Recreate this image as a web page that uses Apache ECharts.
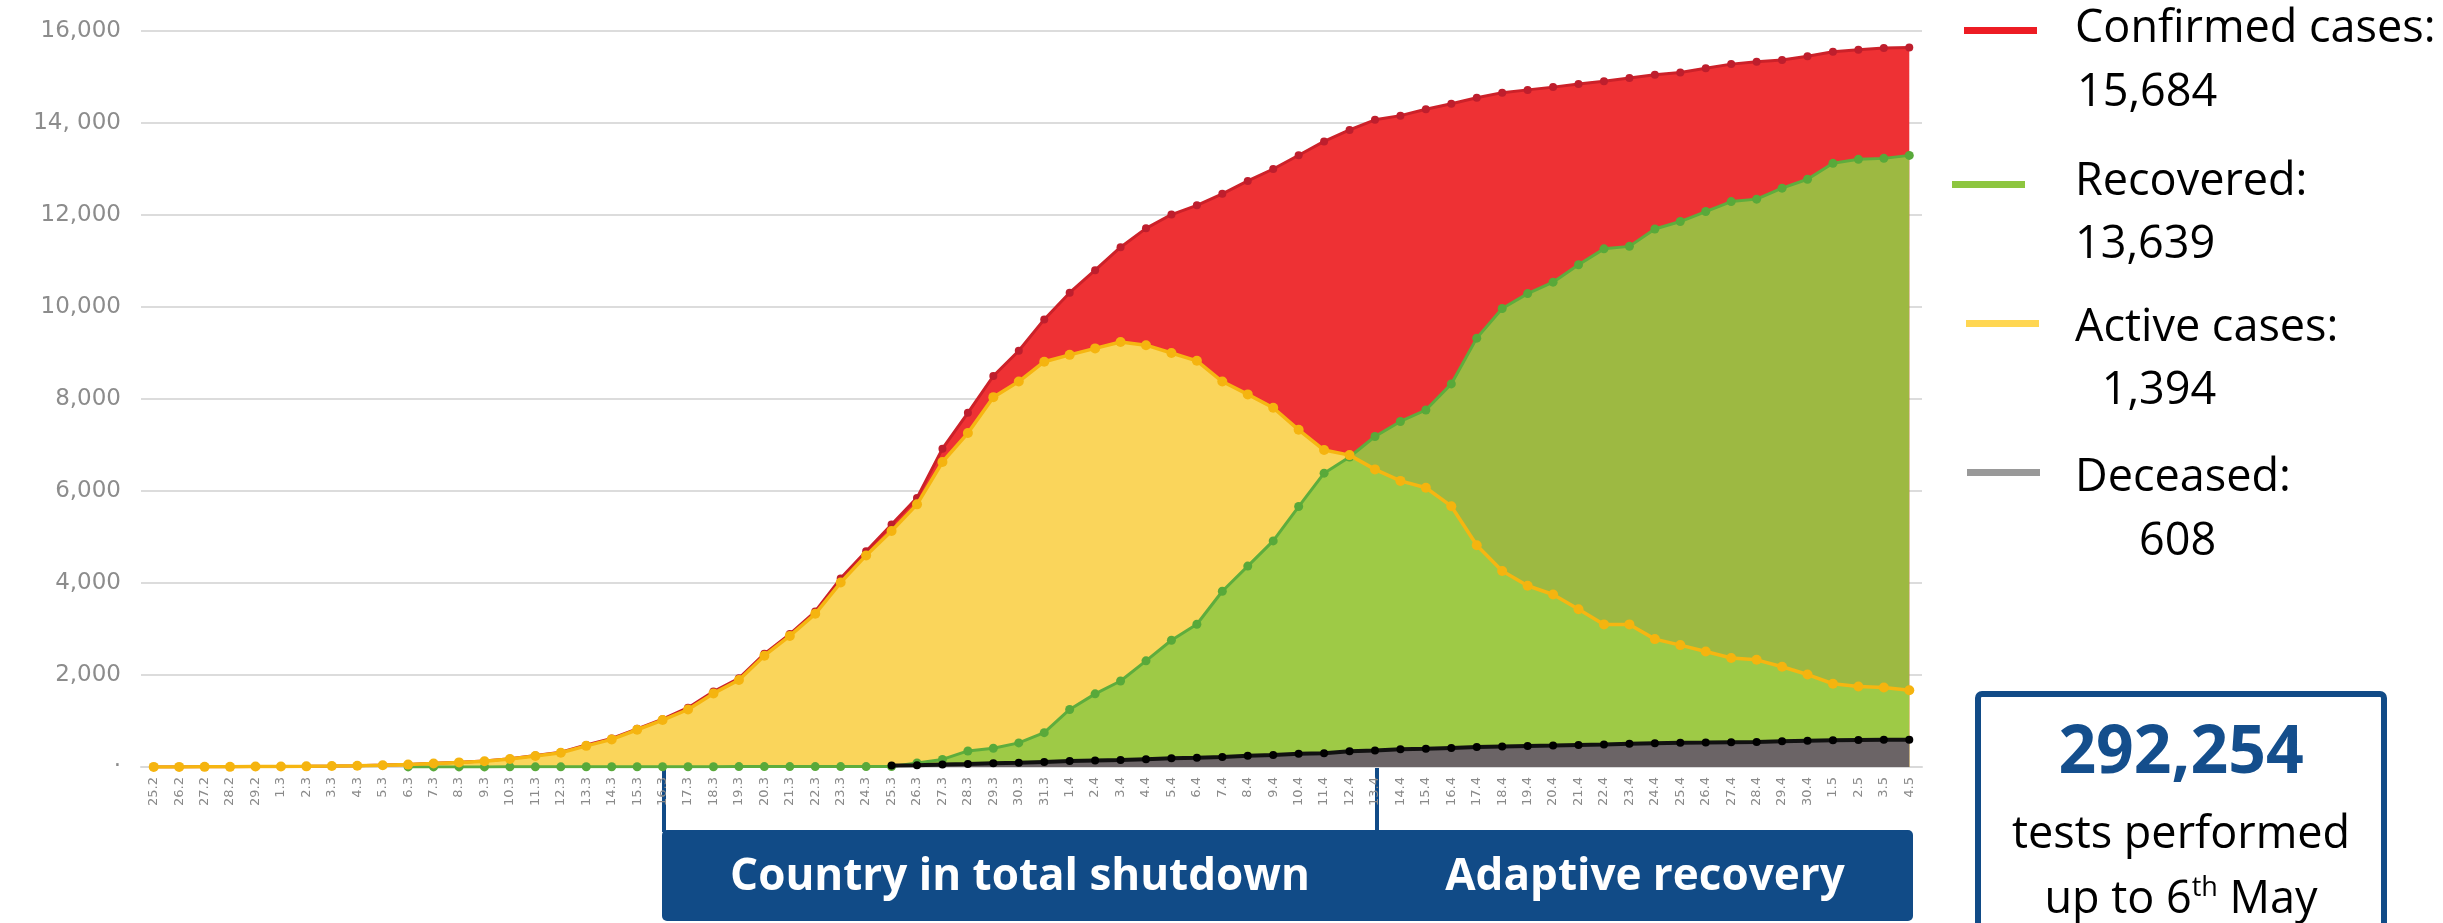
<!DOCTYPE html>
<html>
<head>
    <meta charset="utf-8">
    <title>COVID-19 Austria</title>
    <script src="https://cdn.jsdelivr.net/npm/echarts@6/dist/echarts.min.js"></script>
    <style>
        html, body { margin: 0; padding: 0; background: #fff; }
        #main { width: 2443px; height: 923px; }
    </style>
</head>
<body>
<div id="main"></div>
<script type="text/javascript">
// x axis labels (day.month)
var dates = ['25.2','26.2','27.2','28.2','29.2',
    '1.3','2.3','3.3','4.3','5.3','6.3','7.3','8.3','9.3','10.3','11.3','12.3','13.3','14.3','15.3','16.3',
    '17.3','18.3','19.3','20.3','21.3','22.3','23.3','24.3','25.3','26.3','27.3','28.3','29.3','30.3','31.3',
    '1.4','2.4','3.4','4.4','5.4','6.4','7.4','8.4','9.4','10.4','11.4','12.4','13.4','14.4','15.4',
    '16.4','17.4','18.4','19.4','20.4','21.4','22.4','23.4','24.4','25.4','26.4','27.4','28.4','29.4','30.4',
    '1.5','2.5','3.5','4.5'];

var confirmed = [2,2,3,3,9,
    10,14,21,29,41,55,79,104,131,182,250,320,480,620,830,1040,
    1290,1640,1930,2460,2890,3380,4100,4690,5270,5850,6920,7700,8500,9050,9730,
    10310,10800,11300,11710,12010,12210,12460,12740,13000,13300,13600,13850,14070,14160,14300,
    14420,14550,14660,14720,14780,14850,14910,14980,15050,15100,15190,15280,15330,15370,15450,
    15550,15590,15630,15640];

var active = [2,2,3,3,9,
    10,14,20,27,39,52,75,100,125,175,240,310,460,600,810,1020,
    1250,1600,1890,2420,2850,3330,4010,4600,5130,5710,6630,7260,8040,8380,8810,
    8960,9100,9240,9170,9000,8830,8380,8100,7810,7330,6890,6780,6470,6220,6070,
    5670,4820,4260,3940,3750,3430,3100,3100,2780,2650,2510,2370,2330,2180,2010,
    1810,1750,1730,1670];

var recovered = [null,null,null,null,null,
    null,null,null,null,null,2,2,2,2,4,4,4,6,6,6,6,
    6,6,9,9,9,9,9,9,9,87,165,349,407,524,747,
    1251,1590,1870,2308,2756,3104,3821,4368,4915,5662,6388,6740,7184,7512,7761,
    8328,9323,9968,10291,10540,10918,11264,11318,11696,11858,12075,12291,12345,12583,12777,
    13123,13210,13231,13296];

var deceased = [null,null,null,null,null,
    null,null,null,null,null,null,null,null,null,null,null,null,null,null,null,null,
    null,null,null,null,null,null,null,null,30,40,55,65,80,90,110,
    130,140,150,170,190,200,220,245,260,290,300,340,360,385,395,
    415,435,445,455,465,480,490,505,515,525,530,540,545,560,570,
    580,585,590,595];

var legendNames = ['Confirmed cases:', 'Recovered:', 'Active cases:', 'Deceased:'];
var legendValues = ['15,684', '13,639', ' 1,394', '608'];
var legendColors = ['#ED1C24', '#8DC63F', '#FFD652', '#999999'];
var testsTotal = '292,254';
var phaseNames = ['Country in total shutdown', 'Adaptive recovery'];

var BLUE = '#114B87';

function fmtY(v) {
    if (v === 0) return '·';
    if (v === 14000) return '14, 000';
    return v.toLocaleString('en-US');
}

function areaSeries(name, data, color, opacity, z) {
    return {
        name: name, type: 'line', data: data, z: z,
        symbol: 'none', silent: true,
        lineStyle: { width: 0 },
        areaStyle: { color: color, opacity: opacity }
    };
}
function lineSeries(name, data, color, dot, width, size, z) {
    return {
        name: name, type: 'line', data: data, z: z,
        symbol: 'circle', symbolSize: size,
        lineStyle: { color: color, width: width },
        itemStyle: { color: dot }
    };
}

// legend graphics (line marker + two rows of text)
var legLineX = [1964, 1952, 1966, 1967];
var legLineY = [27, 181, 320, 469];
var legTextY = [29, 182, 328, 478];
var legValY = [93, 245, 391, 542];
var legValX = [2077, 2075, 2090, 2139];
var graphics = [];
for (var i = 0; i < legendNames.length; i++) {
    graphics.push({
        type: 'rect', shape: { x: legLineX[i], y: legLineY[i], width: 73, height: 7 },
        style: { fill: legendColors[i] }
    });
    graphics.push({
        type: 'text', x: 2075, y: legTextY[i],
        style: { text: legendNames[i], fill: '#000', fontSize: 45, fontFamily: 'Open Sans',
            align: 'left', verticalAlign: 'middle' }
    });
    graphics.push({
        type: 'text', x: legValX[i], y: legValY[i],
        style: { text: legendValues[i], fill: '#000', fontSize: 45, fontFamily: 'Open Sans',
            align: 'left', verticalAlign: 'middle' }
    });
}

// phase bar and markers
graphics.push({ type: 'line', shape: { x1: 664, y1: 729, x2: 664, y2: 832 }, style: { stroke: BLUE, lineWidth: 4 } });
graphics.push({ type: 'line', shape: { x1: 1377, y1: 707, x2: 1377, y2: 832 }, style: { stroke: BLUE, lineWidth: 4 } });
graphics.push({ type: 'rect', shape: { x: 662, y: 830, width: 1251, height: 91, r: 5 }, style: { fill: BLUE } });
graphics.push({
    type: 'text', x: 1020, y: 877,
    style: { text: phaseNames[0], fill: '#fff', fontSize: 44, fontWeight: 'bold', fontFamily: 'Open Sans',
        align: 'center', verticalAlign: 'middle' }
});
graphics.push({
    type: 'text', x: 1645, y: 877,
    style: { text: phaseNames[1], fill: '#fff', fontSize: 44, fontWeight: 'bold', fontFamily: 'Open Sans',
        align: 'center', verticalAlign: 'middle' }
});

// tests box
graphics.push({
    type: 'rect', shape: { x: 1978, y: 694, width: 406, height: 260, r: 4 },
    style: { fill: '#fff', stroke: BLUE, lineWidth: 6 }
});
graphics.push({
    type: 'text', x: 2181, y: 754,
    style: { text: testsTotal, fill: '#144E8C', fontSize: 66, fontWeight: 'bold', fontFamily: 'Open Sans',
        align: 'center', verticalAlign: 'middle' }
});
graphics.push({
    type: 'text', x: 2181, y: 835,
    style: { text: 'tests performed', fill: '#000', fontSize: 45, fontFamily: 'Open Sans',
        align: 'center', verticalAlign: 'middle' }
});
graphics.push({
    type: 'text', x: 2181, y: 900,
    style: {
        text: '{a|up to 6}{b|th}{a| May}', align: 'center', verticalAlign: 'middle',
        rich: {
            a: { fontSize: 45, fontFamily: 'Open Sans', fill: '#000', lineHeight: 50 },
            b: { fontSize: 27, fontFamily: 'Open Sans', fill: '#000', verticalAlign: 'top' }
        }
    }
});

var myChart = echarts.init(document.getElementById('main'));
var option = {
    animation: false,
    backgroundColor: '#fff',
    grid: { left: 141, right: 521, top: 31, bottom: 156 },
    xAxis: {
        type: 'category', data: dates, boundaryGap: true,
        axisLine: { show: true, lineStyle: { color: '#d9d9d9', width: 2 } },
        axisTick: { show: false },
        axisLabel: { interval: 0, rotate: 90, fontSize: 13, color: '#8a8a8a', margin: 10, fontFamily: 'DejaVu Sans' }
    },
    yAxis: {
        type: 'value', min: 0, max: 16000, interval: 2000,
        axisLine: { show: false }, axisTick: { show: false },
        splitLine: { lineStyle: { color: '#dcdcdc', width: 2 } },
        axisLabel: { fontSize: 23, color: '#8c8c8c', margin: 20, fontFamily: 'DejaVu Sans', formatter: fmtY }
    },
    series: [
        areaSeries('Confirmed area', confirmed, '#EE3134', 1, 1),
        areaSeries('Active area', active, '#FAD55B', 1, 2),
        areaSeries('Recovered area', recovered, 'rgb(147,201,68)', 0.9, 3),
        areaSeries('Deceased area', deceased, '#6B6466', 1, 4),
        lineSeries('Confirmed', confirmed, '#CC2129', '#BE1E2D', 3, 8, 5),
        lineSeries('Recovered', recovered, '#5EAD3D', '#58A93A', 3, 9, 6),
        lineSeries('Active', active, '#F6B611', '#F5B40F', 3.5, 10, 7),
        lineSeries('Deceased', deceased, '#111111', '#000000', 4, 8, 8)
    ],
    graphic: graphics
};
myChart.setOption(option);
</script>
</body>
</html>
